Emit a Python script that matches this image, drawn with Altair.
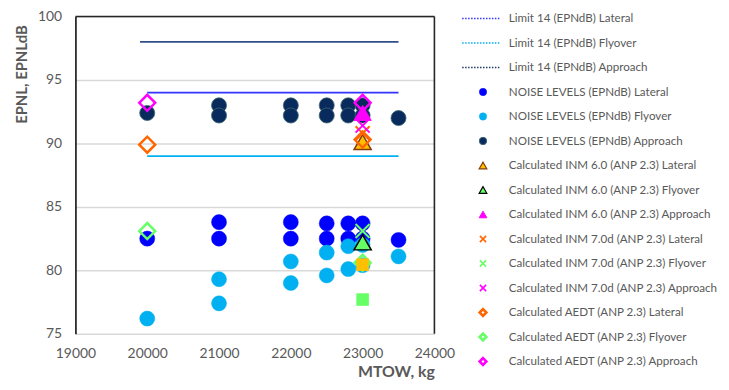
import altair as alt
import pandas as pd

FONT = "Lato"
GREY = "#595959"

# ---------------- data ----------------
x_ticks = [19000, 20000, 21000, 22000, 23000, 24000]
y_ticks = [75, 80, 85, 90, 95, 100]

lim_lat_x = [20000, 23500]
lim_lat_y = [94, 94]
lim_fly_x = [20000, 23500]
lim_fly_y = [89, 89]
lim_app_x = [19900, 23500]
lim_app_y = [98, 98]

noise_x = [20000, 21000, 21000, 22000, 22000, 22500, 22500, 22800, 22800, 23000, 23000, 23500]
noise_lateral = [82.5, 83.8, 82.5, 83.8, 82.5, 83.7, 82.5, 83.7, 82.5, 83.7, 82.5, 82.4]
noise_flyover = [76.2, 79.3, 77.4, 80.7, 79.0, 81.4, 79.6, 81.9, 80.1, 82.0, 80.4, 81.1]
noise_approach = [92.4, 93.0, 92.2, 93.0, 92.2, 93.0, 92.2, 93.0, 92.2, 93.0, 92.2, 92.0]

inm6_x = [23000]
inm6_lateral = [90.1]
inm6_flyover = [82.2]
inm6_approach = [92.4]

inm7_x = [23000]
inm7_lateral = [90.8]
inm7_flyover = [83.1]
inm7_approach = [91.4]

aedt_x = [20000, 23000]
aedt_lateral = [89.9, 90.3]
aedt_flyover = [83.1, 80.6]
aedt_approach = [93.2, 93.2]

extra_x = [23000]
extra_gold = [80.45]
extra_green = [77.7]

legend_labels = [
    "Limit 14 (EPNdB) Lateral",
    "Limit 14 (EPNdB) Flyover",
    "Limit 14 (EPNdB) Approach",
    "NOISE LEVELS (EPNdB) Lateral",
    "NOISE LEVELS (EPNdB) Flyover",
    "NOISE LEVELS (EPNdB) Approach",
    "Calculated  INM 6.0 (ANP 2.3) Lateral",
    "Calculated  INM 6.0 (ANP 2.3) Flyover",
    "Calculated  INM 6.0 (ANP 2.3) Approach",
    "Calculated  INM 7.0d (ANP 2.3) Lateral",
    "Calculated  INM 7.0d (ANP 2.3) Flyover",
    "Calculated  INM 7.0d (ANP 2.3) Approach",
    "Calculated  AEDT (ANP 2.3) Lateral",
    "Calculated  AEDT (ANP 2.3) Flyover",
    "Calculated  AEDT (ANP 2.3) Approach",
]

# ---------------- styles ----------------
XMARK = "M-1,-1L1,1M-1,1L1,-1"
C_LAT_LIM = "#3333FF"
C_FLY_LIM = "#00B0F0"
C_APP_LIM = "#2F4F86"
C_LAT = "#0000FF"
C_FLY = "#00B0F0"
C_APP = "#082A5C"
C_APP_EDGE = "#3B6670"
ORANGE = "#FF6600"
GREEN = "#66FF66"
MAGENTA = "#FF00FF"
GOLD = "#FFC000"
BROWN = "#843C0C"

X = alt.X(
    "x:Q",
    scale=alt.Scale(domain=[19000, 24000], nice=False, zero=False),
    axis=alt.Axis(
        values=x_ticks, format="d", title="MTOW, kg", grid=False, domain=False,
        ticks=False, labelPadding=13, labelFlush=False, labelFont=FONT, labelFontSize=14,
        labelColor=GREY, titleFont=FONT, titleFontSize=16, titleFontWeight="bold",
        titleColor=GREY, titleAnchor="end", titlePadding=3,
    ),
)
Y = alt.Y(
    "y:Q",
    scale=alt.Scale(domain=[75, 100], nice=False, zero=False),
    axis=alt.Axis(
        values=y_ticks, title="EPNL, EPNLdB", grid=True, gridColor="#D9D9D9",
        gridWidth=1.5, domainColor="#000000", domainWidth=1.5, ticks=False,
        labelPadding=14, labelFlush=False, labelFont=FONT, labelFontSize=14, labelColor=GREY,
        titleFont=FONT, titleFontSize=15, titleFontWeight="bold", titleColor=GREY,
        titleAngle=-90, titleX=-46, titleY=58, titleAlign="center", titleBaseline="bottom",
    ),
)


def frame_rule_y(v):
    return alt.Chart(pd.DataFrame({"y": v})).mark_rule(color="#262626", strokeWidth=1.6).encode(y=Y)


def frame_rule_x(v):
    return alt.Chart(pd.DataFrame({"x": v})).mark_rule(color="#262626", strokeWidth=1.6).encode(x=X)


def limit_line(xs, ys, color):
    df = pd.DataFrame({"x": xs, "y": ys})
    return alt.Chart(df).mark_line(color=color, strokeWidth=1.6).encode(x=X, y=Y)


def pts(xs, ys, shape, fill, stroke, size, sw):
    df = pd.DataFrame({"x": xs, "y": ys})
    return alt.Chart(df).mark_point(
        shape=shape, filled=True, fill=fill, stroke=stroke, size=size,
        strokeWidth=sw, opacity=1,
    ).encode(x=X, y=Y)


layers = [
    frame_rule_y([100]),
    frame_rule_x([24000]),
    limit_line(lim_lat_x, lim_lat_y, C_LAT_LIM),
    limit_line(lim_fly_x, lim_fly_y, C_FLY_LIM),
    limit_line(lim_app_x, lim_app_y, C_APP_LIM),
    pts(noise_x, noise_lateral, "circle", C_LAT, C_LAT, 230, 0.5),
    pts(noise_x, noise_flyover, "circle", C_FLY, C_FLY, 230, 0.5),
    pts(noise_x, noise_approach, "circle", C_APP, C_APP_EDGE, 230, 0.8),
    pts(inm6_x, inm6_lateral, "triangle-up", GOLD, BROWN, 300, 1.5),
    pts(inm6_x, inm6_flyover, "triangle-up", GREEN, "#000000", 300, 1.5),
    pts(inm6_x, inm6_approach, "triangle-up", MAGENTA, MAGENTA, 300, 1),
    pts(inm7_x, inm7_lateral, XMARK, "transparent", ORANGE, 200, 2),
    pts(inm7_x, inm7_flyover, XMARK, "transparent", GREEN, 200, 2),
    pts(inm7_x, inm7_approach, XMARK, "transparent", MAGENTA, 200, 2),
    pts(aedt_x, aedt_lateral, "diamond", "transparent", ORANGE, 260, 2.5),
    pts(aedt_x, aedt_flyover, "diamond", "transparent", GREEN, 260, 2.5),
    pts(aedt_x, aedt_approach, "diamond", "transparent", MAGENTA, 260, 2.5),
    pts(extra_x, extra_gold, "square", GOLD, GOLD, 160, 0),
    pts(extra_x, extra_green, "square", GREEN, GREEN, 160, 0),
]
main = alt.layer(*layers).properties(width=362, height=320)

# ---------------- legend panel ----------------
LEG_W = 282
line_rows = [0, 1, 2]
line_colors = ["#3333FF", "#00B0F0", "#1F3864"]
sym_rows = list(range(3, 15))
sym_shapes = ["circle", "circle", "circle", "triangle-up", "triangle-up", "triangle-up",
              XMARK, XMARK, XMARK, "diamond", "diamond", "diamond"]
sym_fills = [C_LAT, C_FLY, C_APP, GOLD, GREEN, MAGENTA,
             "transparent", "transparent", "transparent", "#FFFFFF", "#FFFFFF", "#FFFFFF"]
sym_strokes = [C_LAT, C_FLY, C_APP_EDGE, BROWN, "#000000", MAGENTA,
               ORANGE, GREEN, MAGENTA, ORANGE, GREEN, MAGENTA]
sym_sizes = [55, 55, 55, 60, 60, 60, 40, 40, 40, 45, 45, 45]
sym_widths = [0.5, 0.5, 1, 1.2, 1.2, 1, 1.6, 1.6, 1.6, 2.6, 2.6, 2.6]

LX = alt.X("lx:Q", scale=alt.Scale(domain=[0, LEG_W], nice=False, zero=False), axis=None)
LX2 = alt.X2("lx2:Q")
LY = alt.Y("row:Q", scale=alt.Scale(domain=[-0.08, 14.49], nice=False, zero=False, reverse=True), axis=None)

ldf_lines = pd.DataFrame({"row": line_rows, "lx": [28] * 3, "lx2": [67] * 3, "c": line_colors})
ldf_syms = pd.DataFrame({
    "row": sym_rows, "lx": [49] * 12, "shape": sym_shapes, "fill": sym_fills,
    "stroke": sym_strokes, "size": sym_sizes, "sw": sym_widths,
})
ldf_text = pd.DataFrame({"row": list(range(15)), "lx": [75] * 15, "label": legend_labels})

leg_lines = alt.Chart(ldf_lines).mark_rule(strokeWidth=1.5, strokeDash=[1.5, 1.5]).encode(
    x=LX, x2=LX2, y=LY, color=alt.Color("c:N", scale=None)
)
leg_syms = alt.Chart(ldf_syms).mark_point(filled=True, opacity=1).encode(
    x=LX, y=LY,
    shape=alt.Shape("shape:N", scale=None),
    fill=alt.Fill("fill:N", scale=None),
    stroke=alt.Stroke("stroke:N", scale=None),
    size=alt.Size("size:Q", scale=None),
    strokeWidth=alt.StrokeWidth("sw:Q", scale=None),
)
leg_text = alt.Chart(ldf_text).mark_text(
    align="left", baseline="middle", font=FONT, fontSize=11.7, color=GREY
).encode(x=LX, y=LY, text="label:N")

legend = alt.layer(leg_lines, leg_syms, leg_text).properties(width=LEG_W, height=360)

chart = alt.hconcat(main, legend, spacing=0, bounds="flush").configure_view(
    stroke=None
).properties(padding={"left": 6, "top": 0, "right": 0, "bottom": 0}, background="white")

chart.save("out.html", embed_options={"renderer": "svg", "actions": False})
